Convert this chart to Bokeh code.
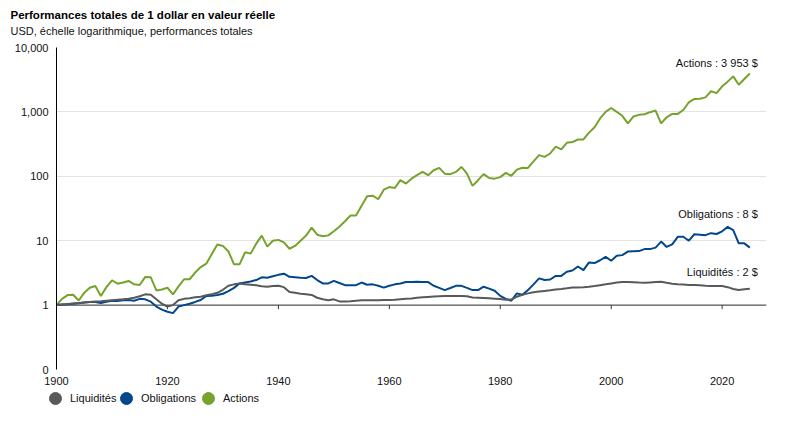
from bokeh.plotting import figure
from bokeh.layouts import column, row
from bokeh.models import (Range1d, FixedTicker, CustomJSTickFormatter, Span, Label,
                          Legend, LegendItem)
from bokeh.embed import file_html
from bokeh.resources import INLINE

# ---------------- data ----------------
years = list(range(1900, 2026))

liquidites = [
    1.00, 1.02, 1.04, 1.06, 1.08, 1.10, 1.12, 1.14, 1.15, 1.17,
    1.19, 1.21, 1.23, 1.26, 1.30, 1.37, 1.47, 1.45, 1.23, 1.05,
    0.95, 1.00, 1.19, 1.25, 1.28, 1.32, 1.35, 1.42, 1.48, 1.55,
    1.73, 2.00, 2.10, 2.17, 2.10, 2.07, 2.03, 1.97, 1.93, 1.98,
    2.00, 1.90, 1.60, 1.55, 1.50, 1.48, 1.44, 1.30, 1.23, 1.19,
    1.23, 1.14, 1.14, 1.15, 1.17, 1.19, 1.19, 1.19, 1.19, 1.20,
    1.20, 1.21, 1.23, 1.25, 1.27, 1.30, 1.32, 1.34, 1.36, 1.37,
    1.38, 1.39, 1.39, 1.39, 1.37, 1.31, 1.30, 1.29, 1.28, 1.26,
    1.24, 1.21, 1.22, 1.35, 1.45, 1.52, 1.58, 1.62, 1.66, 1.70,
    1.75, 1.78, 1.82, 1.87, 1.88, 1.90, 1.93, 1.98, 2.04, 2.10,
    2.17, 2.24, 2.28, 2.28, 2.27, 2.24, 2.22, 2.25, 2.28, 2.30,
    2.22, 2.15, 2.10, 2.08, 2.06, 2.05, 2.03, 2.00, 1.98, 1.98,
    1.98, 1.90, 1.78, 1.71, 1.76, 1.80,
]

obligations = [
    1.00, 1.02, 1.03, 1.05, 1.07, 1.10, 1.12, 1.12, 1.08, 1.13,
    1.17, 1.16, 1.19, 1.20, 1.17, 1.25, 1.23, 1.13, 0.95, 0.85,
    0.79, 0.75, 0.95, 1.00, 1.05, 1.12, 1.20, 1.39, 1.40, 1.43,
    1.50, 1.65, 1.85, 2.17, 2.25, 2.33, 2.45, 2.70, 2.66, 2.80,
    2.95, 3.07, 2.75, 2.70, 2.65, 2.63, 2.84, 2.45, 2.17, 2.17,
    2.38, 2.20, 2.04, 2.04, 2.04, 2.24, 2.07, 2.10, 2.00, 1.87,
    2.00, 2.10, 2.17, 2.28, 2.28, 2.30, 2.29, 2.28, 2.00, 1.85,
    1.71, 1.84, 1.99, 1.99, 1.85, 1.71, 1.71, 1.93, 1.80, 1.67,
    1.39, 1.25, 1.17, 1.52, 1.45, 1.71, 2.10, 2.60, 2.45, 2.50,
    2.84, 2.84, 3.30, 3.45, 3.98, 3.50, 4.60, 4.50, 4.97, 5.60,
    4.88, 5.83, 5.97, 6.77, 6.85, 6.90, 7.40, 7.40, 7.80, 9.70,
    8.00, 8.75, 11.5, 11.5, 10.0, 12.6, 12.4, 12.2, 13.1, 12.7,
    14.0, 16.4, 14.6, 9.10, 9.10, 7.80,
]

actions = [
    1.00, 1.25, 1.43, 1.45, 1.18, 1.55, 1.86, 1.98, 1.38, 1.90,
    2.43, 2.15, 2.25, 2.37, 2.10, 2.05, 2.74, 2.70, 1.69, 1.75,
    1.86, 1.47, 1.95, 2.52, 2.52, 3.20, 3.90, 4.40, 6.20, 8.70,
    8.30, 6.80, 4.30, 4.30, 6.60, 6.30, 9.00, 12.0, 8.10, 10.0,
    10.3, 9.40, 7.50, 8.30, 10.0, 12.0, 16.0, 12.4, 11.7, 12.1,
    14.0, 16.5, 20.0, 24.6, 24.6, 35.0, 49.0, 50.0, 44.0, 62.0,
    68, 66, 87, 77, 92, 104, 117, 104, 124, 135,
    110, 108, 117, 140, 110, 71, 87, 108, 94, 92,
    97, 113, 102, 127, 136, 135, 170, 213, 200, 226,
    289, 262, 331, 340, 373, 373, 477, 577, 791, 1000,
    1150, 1000, 870, 664, 846, 900, 920, 990, 1050, 664,
    825, 930, 930, 1070, 1410, 1590, 1600, 1680, 2090, 1960,
    2500, 2950, 3560, 2640, 3250, 3953,
]

series_names = ["Liquidités", "Obligations", "Actions"]
end_labels = ["Liquidités : 2 $", "Obligations : 8 $", "Actions : 3 953 $"]
x_ticks = [1900, 1920, 1940, 1960, 1980, 2000, 2020]
y_ticks = [0.1, 1, 10, 100, 1000, 10000]

title_text = "Performances totales de 1 dollar en valeur réelle"
subtitle_text = "USD, échelle logarithmique, performances totales"

# ---------------- style ----------------
FONT = "Liberation Sans"
colors = ["#58595b", "#00478e", "#77a22d"]
TXT = "#111111"
all_series = [liquidites, obligations, actions]


def strip(height):
    f = figure(width=792, height=height, output_backend="svg", toolbar_location=None,
               x_range=Range1d(0, 1), y_range=Range1d(0, 1),
               x_axis_location=None, y_axis_location=None,
               min_border_left=0, min_border_right=0, min_border_top=0, min_border_bottom=0)
    f.outline_line_color = None
    f.xgrid.visible = False
    f.ygrid.visible = False
    f.background_fill_color = "white"
    f.border_fill_color = "white"
    return f


# ---------------- title strip ----------------
tf = strip(40)
tf.add_layout(Label(x=10, y=25.3, x_units="screen", y_units="screen", text=title_text,
                    text_align="left", text_baseline="alphabetic", text_font=FONT,
                    text_font_size="11.5px", text_font_style="bold", text_color="#000000"))
tf.add_layout(Label(x=10, y=9.7, x_units="screen", y_units="screen", text=subtitle_text,
                    text_align="left", text_baseline="alphabetic", text_font=FONT,
                    text_font_size="11px", text_color=TXT))

# ---------------- main chart ----------------
p = figure(width=792, height=350, output_backend="svg", toolbar_location=None,
           y_axis_type="log", x_range=Range1d(1900, 2028), y_range=Range1d(0.1, 10000),
           min_border_left=56, min_border_right=26, min_border_top=7, min_border_bottom=21,
           title=None)
p.outline_line_color = None
p.background_fill_color = "white"
p.border_fill_color = "white"

ya = p.yaxis[0]
ya.ticker = FixedTicker(ticks=y_ticks, minor_ticks=[])
ya.formatter = CustomJSTickFormatter(code="""
    if (tick < 1) { return "0"; }
    return Math.round(tick).toLocaleString("en-US");
""")
ya.axis_line_color = "#000000"
ya.axis_line_width = 1
ya.major_tick_line_color = None
ya.minor_tick_line_color = None
ya.major_tick_out = 0
ya.major_label_standoff = 8
ya.major_label_text_font = FONT
ya.major_label_text_font_size = "11px"
ya.major_label_text_color = TXT

xa = p.xaxis[0]
xa.ticker = FixedTicker(ticks=x_ticks, minor_ticks=[])
xa.axis_line_color = None
xa.major_tick_line_color = None
xa.minor_tick_line_color = None
xa.major_tick_out = 0
xa.major_label_standoff = 7
xa.major_label_text_font = FONT
xa.major_label_text_font_size = "11px"
xa.major_label_text_color = TXT

p.xgrid.visible = False
p.ygrid.ticker = FixedTicker(ticks=y_ticks, minor_ticks=[])
p.ygrid.grid_line_color = "#e3e3e3"
p.ygrid.grid_line_width = 1

base = Span(location=1, dimension="width", line_color="#333333", line_width=1, level="underlay")
p.add_layout(base)
inner_ticks = x_ticks[1:]
p.segment(x0=inner_ticks, y0=[1] * len(inner_ticks), x1=inner_ticks, y1=[0.865] * len(inner_ticks),
          line_color="#333333", line_width=1)

for i in [2, 1, 0]:
    p.line(years, all_series[i], line_color=colors[i], line_width=2)

end_y = [97.4, 156.0, 306.7]
for txt, yy in zip(end_labels, end_y):
    p.add_layout(Label(x=701.3, y=yy, x_units="screen", y_units="screen", text=txt,
                       text_align="right", text_baseline="alphabetic",
                       text_font=FONT, text_font_size="11px", text_color=TXT))

# ---------------- legend strip ----------------
lg = strip(34)
leg_r = [lg.scatter(years, all_series[i], marker="circle", size=12, color=colors[i])
         for i in range(3)]
leg_x = [40, 111, 193]
for name, r, lx in zip(series_names, leg_r, leg_x):
    lg.add_layout(Legend(items=[LegendItem(label=name, renderers=[r])],
                         location=(lx, 11), orientation="horizontal",
                         glyph_width=30, glyph_height=30, label_standoff=0,
                         padding=0, margin=0, border_line_color=None, background_fill_alpha=0,
                         label_text_font=FONT, label_text_font_size="11px",
                         label_text_color=TXT))

layout = column(row(tf), p, row(lg), spacing=0)
open("out.html", "w").write(file_html(layout, INLINE))
